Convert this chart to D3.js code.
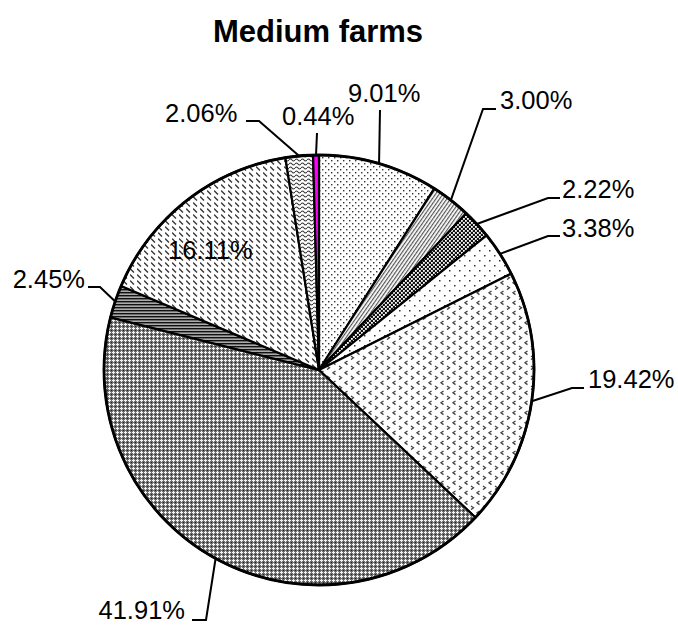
<!DOCTYPE html>
<html>
<head>
<meta charset="utf-8">
<script src="https://cdn.jsdelivr.net/npm/d3@7"></script>
<style>
  html, body { margin: 0; padding: 0; background: #fff; }
  svg { display: block; font-family: "Liberation Sans", Arial, sans-serif; }
</style>
</head>
<body>
<svg id="chart" width="678" height="625"></svg>
<script>
// Share of each farm group (percent), clockwise from 12 o'clock
const shares = [9.01, 3.00, 2.22, 3.38, 19.42, 41.91, 2.45, 16.11, 2.06, 0.44];
const valueLabels = ["9.01%", "3.00%", "2.22%", "3.38%", "19.42%", "41.91%", "2.45%", "16.11%", "2.06%", "0.44%"];
const fillIds = ["dots", "diag", "checker", "sparse", "chevron", "grid", "hstripe", "dash", "wave", "solid"];

// Label placement: text anchor point and leader-line bends
const labelLayout = [
  { x: 348, y: 102, anchor: "start", leader: [[380, 110]] },
  { x: 500, y: 109, anchor: "start", leader: [[483, 109], [496, 109]] },
  { x: 562, y: 198, anchor: "start", leader: [[548, 198], [560, 198]] },
  { x: 562, y: 237, anchor: "start", leader: [[548, 236], [560, 236]] },
  { x: 588, y: 388, anchor: "start", leader: [[572, 388], [584, 388]] },
  { x: 185, y: 619, anchor: "end",   leader: [[206, 620], [192, 620]] },
  { x: 85,  y: 288, anchor: "end",   leader: [[100, 287], [88, 287]] },
  { x: 168, y: 259, anchor: "start", leader: null },
  { x: 165, y: 122, anchor: "start", leader: [[259, 121], [246, 121]] },
  { x: 282, y: 125, anchor: "start", leader: [[317, 133]] }
];

const cx = 319, cy = 370, radius = 215;
const svg = d3.select("#chart");
const defs = svg.append("defs");

function pattern(id, w, h, build, transform) {
  const p = defs.append("pattern")
    .attr("id", id).attr("patternUnits", "userSpaceOnUse")
    .attr("width", w).attr("height", h);
  if (transform) p.attr("patternTransform", transform);
  p.append("rect").attr("width", w).attr("height", h).attr("fill", "#fff");
  build(p);
}
const px = (p, x, y, w, h, c) =>
  p.append("rect").attr("x", x).attr("y", y).attr("width", w).attr("height", h).attr("fill", c);

// fine dotted fill
pattern("dots", 6, 6, p => {
  px(p, 0, 0, 1.4, 1.4, "#333");
  px(p, 3, 3, 1.4, 1.4, "#333");
});
// narrow slanted stripes
pattern("diag", 3, 3, p => {
  px(p, 0, 0, 1.2, 3, "#555");
}, "rotate(35)");
// small checkerboard
pattern("checker", 4, 4, p => {
  px(p, 0, 0, 4, 4, "#111");
  px(p, 0, 0, 1.8, 1.8, "#fff");
  px(p, 2, 2, 1.8, 1.8, "#fff");
});
// sparse dots
pattern("sparse", 10, 10, p => {
  px(p, 0, 0, 1.5, 1.5, "#333");
  px(p, 5, 5, 1.5, 1.5, "#333");
});
// small chevrons
pattern("chevron", 12, 10, p => {
  p.append("path").attr("d", "M4.5,1 L2,2.8 L4.5,4.6").attr("fill", "none").attr("stroke", "#444").attr("stroke-width", 1.3);
  p.append("path").attr("d", "M8,6 L10.5,7.8 L8,9.6").attr("fill", "none").attr("stroke", "#444").attr("stroke-width", 1.3);
});
// dense grey lattice with light crosses
pattern("grid", 4, 4, p => {
  px(p, 0, 0, 4, 4, "#6e6e6e");
  px(p, 0, 0, 1, 1, "#222");
  px(p, 2, 1, 1, 3, "#f4f4f4");
  px(p, 1, 2, 3, 1, "#f4f4f4");
});
// horizontal stripes
pattern("hstripe", 3, 3, p => {
  px(p, 0, 0, 3, 3, "#aaa");
  px(p, 0, 0, 3, 1.4, "#111");
});
// short downward dashes
pattern("dash", 7, 6, p => {
  p.append("line").attr("x1", 0).attr("y1", 0.5).attr("x2", 4).attr("y2", 4.5)
    .attr("stroke", "#333").attr("stroke-width", 1.3);
});
// wave
pattern("wave", 6, 4, p => {
  p.append("path").attr("d", "M0,2 Q1.5,0 3,2 T6,2").attr("fill", "none").attr("stroke", "#333").attr("stroke-width", 1.1);
});

const fillFor = id => id === "solid" ? "#ff00ff" : `url(#${id})`;

const pie = d3.pie().sort(null).value(d => d).startAngle(0).endAngle(2 * Math.PI);
const arcs = pie(shares);
const arc = d3.arc().innerRadius(0).outerRadius(radius);

const g = svg.append("g").attr("transform", `translate(${cx},${cy})`);
g.selectAll("path.slice")
  .data(arcs)
  .join("path")
  .attr("class", "slice")
  .attr("d", arc)
  .attr("fill", (d, i) => fillFor(fillIds[i]))
  .attr("stroke", "#000")
  .attr("stroke-width", 2.2)
  .attr("stroke-linejoin", "round");

g.append("circle").attr("r", radius).attr("fill", "none").attr("stroke", "#000").attr("stroke-width", 2.8);

// Leader lines from the rim at each slice's mid angle
const line = d3.line();
arcs.forEach((d, i) => {
  const lay = labelLayout[i];
  if (!lay.leader) return;
  const mid = (d.startAngle + d.endAngle) / 2;
  const edge = [cx + radius * Math.sin(mid), cy - radius * Math.cos(mid)];
  svg.append("path")
    .attr("d", line([edge, ...lay.leader]))
    .attr("fill", "none")
    .attr("stroke", "#000")
    .attr("stroke-width", 2);
});

svg.selectAll("text.val")
  .data(arcs)
  .join("text")
  .attr("class", "val")
  .attr("x", (d, i) => labelLayout[i].x)
  .attr("y", (d, i) => labelLayout[i].y)
  .attr("text-anchor", (d, i) => labelLayout[i].anchor)
  .attr("font-size", 25.5)
  .attr("fill", "#000")
  .text((d, i) => valueLabels[i]);

svg.append("text")
  .attr("x", 318).attr("y", 42)
  .attr("text-anchor", "middle")
  .attr("font-size", 31)
  .attr("font-weight", "bold")
  .text("Medium farms");
</script>
</body>
</html>
